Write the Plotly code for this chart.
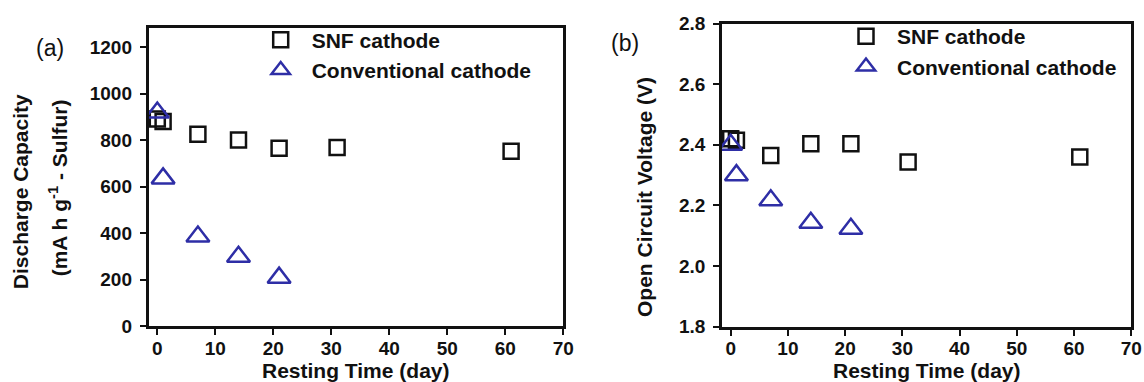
import plotly.graph_objects as go

# Resting-time study: discharge capacity and open-circuit voltage vs. days at rest
days_snf = [0, 1, 7, 14, 21, 31, 61]
days_conv = [0, 1, 7, 14, 21]

capacity_snf = [890, 880, 825, 800, 765, 768, 752]
capacity_conv = [918, 635, 385, 298, 208]

ocv_snf = [2.42, 2.415, 2.365, 2.404, 2.404, 2.343, 2.36]
ocv_conv = [2.40, 2.30, 2.217, 2.143, 2.123]

x_ticks = [0, 10, 20, 30, 40, 50, 60, 70]
cap_ticks = [0, 200, 400, 600, 800, 1000, 1200]
ocv_ticks = [1.8, 2.0, 2.2, 2.4, 2.6, 2.8]

name_snf = "SNF cathode"
name_conv = "Conventional cathode"

BLACK = "#111111"
BLUE = "#2E2EA6"
FONT = "Liberation Sans, Arial, sans-serif"

W, H = 1144, 382


def px(x):
    return x / W


def py(y):
    return 1 - y / H


fig = go.Figure()

sq = dict(symbol="square-open", size=15, color=BLACK, line=dict(width=2.5, color=BLACK))
tri = dict(symbol="triangle-up-open", size=20, color=BLUE, line=dict(width=2.5, color=BLUE))

fig.add_trace(go.Scatter(x=days_snf, y=capacity_snf, mode="markers", name=name_snf,
                         marker=sq, xaxis="x", yaxis="y", legend="legend"))
fig.add_trace(go.Scatter(x=days_conv, y=capacity_conv, mode="markers", name=name_conv,
                         marker=tri, xaxis="x", yaxis="y", legend="legend"))
fig.add_trace(go.Scatter(x=days_snf, y=ocv_snf, mode="markers", name=name_snf,
                         marker=sq, xaxis="x2", yaxis="y2", legend="legend2"))
fig.add_trace(go.Scatter(x=days_conv, y=ocv_conv, mode="markers", name=name_conv,
                         marker=tri, xaxis="x2", yaxis="y2", legend="legend2"))

tick_font = dict(family=FONT, size=19, color=BLACK, weight="bold")
axis_common = dict(
    showline=True, linewidth=2.6, linecolor=BLACK, mirror=True,
    ticks="outside", ticklen=6, tickwidth=2.4, tickcolor=BLACK,
    showgrid=False, zeroline=False, tickfont=tick_font, fixedrange=True,
    automargin=False,
)
x_common = dict(axis_common, ticklabelstandoff=-3)
y_common = dict(axis_common, ticklabelstandoff=4)

legend_font = dict(family=FONT, size=21, color=BLACK, weight="bold")

fig.update_layout(
    width=W, height=H,
    margin=dict(l=0, r=0, t=0, b=0, pad=0, autoexpand=False),
    paper_bgcolor="white", plot_bgcolor="white",
    xaxis=dict(domain=[px(148.6), px(563.3)], range=[-1.5, 70], tickvals=x_ticks,
               anchor="y", **x_common),
    yaxis=dict(domain=[py(326), py(27.5)], range=[0, 1284], tickvals=cap_ticks,
               anchor="x", **y_common),
    xaxis2=dict(domain=[px(722), px(1131.3)], range=[-1.52, 70], tickvals=x_ticks,
                anchor="y2", **x_common),
    yaxis2=dict(domain=[py(326.7), py(23.6)], range=[1.8, 2.8], tickvals=ocv_ticks,
                tickformat=".1f", anchor="x2", **y_common),
    legend=dict(x=px(249.7), y=py(19.5), xanchor="left", yanchor="top", itemwidth=52,
                bgcolor="rgba(0,0,0,0)", borderwidth=0, font=legend_font),
    legend2=dict(x=px(835), y=py(16), xanchor="left", yanchor="top", itemwidth=52,
                 bgcolor="rgba(0,0,0,0)", borderwidth=0, font=legend_font),
)

title_font = dict(family=FONT, size=21, color=BLACK, weight="bold")
tag_font = dict(family=FONT, size=23, color=BLACK)

annotations = [
    # panel tags
    dict(text="(a)", x=px(50), y=py(48), font=tag_font),
    dict(text="(b)", x=px(625), y=py(43), font=tag_font),
    # x-axis titles
    dict(text="Resting Time (day)", x=px(355), y=py(370.5), font=title_font),
    dict(text="Resting Time (day)", x=px(926), y=py(370.5), font=title_font),
    # y-axis titles
    dict(text="Discharge Capacity", x=px(20.5), y=py(191.7), textangle=-90, font=title_font),
    dict(text="(mA h g<sup>-1</sup> - Sulfur)", x=px(58.8), y=py(187.5), textangle=-90,
         font=title_font),
    dict(text="Open Circuit Voltage (V)", x=px(645), y=py(197), textangle=-90, font=title_font),
]
for a in annotations:
    a.update(xref="paper", yref="paper", xanchor="center", yanchor="middle", showarrow=False)
fig.update_layout(annotations=annotations)

fig.write_html(
    "out.html",
    config={"displayModeBar": False},
    post_script="document.body.style.margin='0';document.body.style.overflow='hidden';",
)
